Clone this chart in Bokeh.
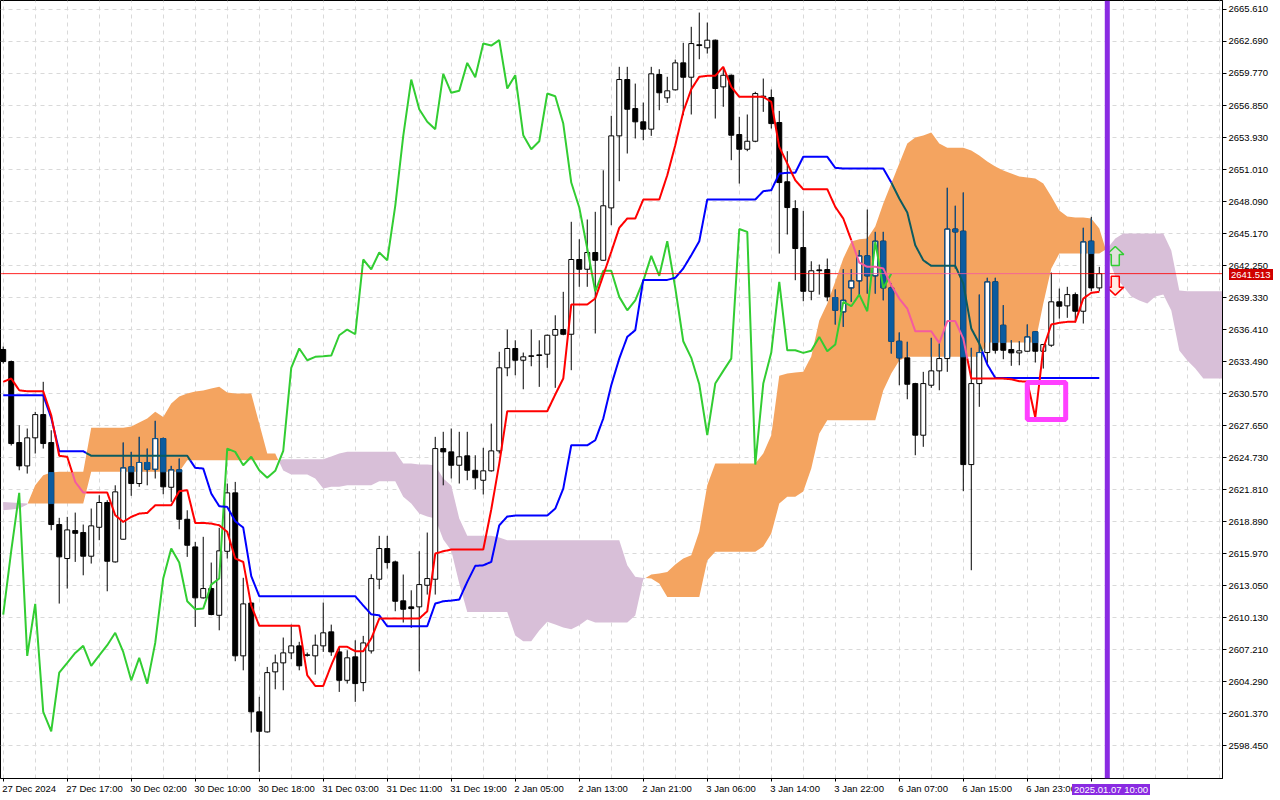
import math
import numpy as np
from bokeh.plotting import figure
from bokeh.layouts import column
from bokeh.models import Range1d, FixedTicker, NumeralTickFormatter, Span, LinearAxis, Div
from bokeh.embed import file_html
from bokeh.resources import INLINE

# ---------------- data (XAUUSD H1) ----------------
opens = [2634.59, 2633.49, 2626.10, 2623.97, 2626.53, 2628.65, 2626.10, 2618.62, 2615.52, 2618.07,
         2617.89, 2615.73, 2618.37, 2620.63, 2615.21, 2617.28, 2623.88, 2622.36, 2624.28, 2623.66,
         2626.46, 2622.02, 2623.61, 2619.10, 2616.58, 2611.93, 2612.78, 2610.34, 2616.18, 2621.51,
         2606.64, 2611.46, 2601.53, 2599.70, 2605.18, 2606.00, 2606.91, 2607.55, 2606.73, 2606.64,
         2607.55, 2608.83, 2607.00, 2604.41, 2606.55, 2604.20, 2607.09, 2613.63, 2616.43, 2615.21,
         2611.66, 2611.11, 2611.11, 2613.08, 2613.63, 2625.55, 2625.25, 2624.03, 2624.89, 2623.57,
         2622.66, 2623.52, 2625.34, 2632.92, 2634.68, 2633.61, 2634.01, 2634.10, 2634.16, 2635.89,
         2636.41, 2635.98, 2642.80, 2641.91, 2643.44, 2642.73, 2647.51, 2654.08, 2659.22, 2656.57,
         2655.36, 2654.69, 2659.68, 2657.55, 2658.28, 2660.74, 2659.43, 2662.39, 2662.11, 2662.81,
         2658.55, 2659.61, 2654.20, 2652.86, 2653.59, 2657.62, 2657.58, 2655.30, 2649.89, 2647.45,
         2643.89, 2639.90, 2641.85, 2641.88, 2639.33, 2638.02, 2640.21, 2640.85, 2643.13, 2641.31,
         2644.47, 2640.21, 2635.34, 2633.83, 2631.48, 2626.77, 2631.33, 2632.64, 2633.76, 2645.58,
         2645.38, 2624.09, 2631.48, 2634.31, 2640.76, 2636.80, 2634.59, 2634.28, 2634.43, 2636.20,
         2634.43, 2634.98, 2638.94, 2638.57, 2639.60, 2638.08, 2644.47, 2640.21]
highs = [2634.86, 2633.58, 2627.68, 2627.38, 2628.90, 2631.64, 2627.22, 2619.23, 2619.32, 2619.71,
         2618.62, 2620.08, 2621.29, 2620.84, 2622.20, 2626.10, 2625.25, 2626.62, 2625.55, 2628.08,
         2626.55, 2623.97, 2624.64, 2619.92, 2617.04, 2617.50, 2615.15, 2618.32, 2622.36, 2622.51,
         2613.76, 2611.50, 2602.90, 2605.63, 2606.76, 2608.31, 2609.49, 2607.92, 2606.94, 2608.58,
         2611.50, 2609.49, 2607.37, 2607.15, 2608.06, 2608.46, 2614.08, 2617.59, 2617.59, 2615.33,
         2614.06, 2612.62, 2616.18, 2617.89, 2626.62, 2627.08, 2627.38, 2627.08, 2627.08, 2624.94,
         2625.62, 2627.83, 2634.38, 2636.41, 2635.43, 2634.31, 2636.41, 2635.43, 2635.95, 2637.71,
         2639.85, 2646.24, 2644.65, 2646.45, 2647.15, 2650.94, 2655.91, 2660.38, 2660.38, 2658.85,
         2657.12, 2660.38, 2660.16, 2659.47, 2661.04, 2662.57, 2664.03, 2665.33, 2664.42, 2662.87,
         2660.38, 2659.68, 2655.82, 2656.03, 2658.10, 2659.31, 2658.31, 2656.36, 2652.68, 2648.21,
         2647.24, 2642.64, 2642.34, 2642.89, 2640.06, 2641.91, 2641.91, 2643.65, 2647.36, 2645.32,
         2645.32, 2640.61, 2636.14, 2635.29, 2631.55, 2632.55, 2635.65, 2635.13, 2649.34, 2647.70,
         2648.91, 2634.74, 2639.60, 2641.13, 2641.13, 2638.63, 2635.43, 2635.34, 2636.87, 2636.25,
         2635.10, 2641.61, 2640.15, 2640.31, 2639.79, 2645.69, 2646.69, 2642.13]
lows = [2633.31, 2625.83, 2623.57, 2623.27, 2625.10, 2625.55, 2618.10, 2611.41, 2612.78, 2615.21,
        2613.99, 2615.06, 2617.19, 2612.53, 2615.15, 2617.25, 2621.24, 2622.06, 2622.20, 2622.82,
        2621.38, 2620.69, 2618.19, 2615.67, 2609.28, 2611.87, 2610.34, 2608.97, 2615.52, 2606.15,
        2605.32, 2599.64, 2596.05, 2599.64, 2603.59, 2603.50, 2606.33, 2605.32, 2606.57, 2604.93,
        2607.00, 2606.64, 2603.35, 2604.11, 2602.44, 2603.41, 2606.85, 2612.72, 2614.60, 2610.71,
        2609.68, 2609.19, 2605.23, 2612.23, 2612.23, 2622.20, 2622.82, 2622.36, 2622.66, 2621.84,
        2621.36, 2623.45, 2625.10, 2632.15, 2632.24, 2630.96, 2633.06, 2631.18, 2632.92, 2631.09,
        2635.89, 2632.70, 2640.31, 2640.31, 2636.05, 2642.70, 2645.93, 2649.94, 2652.47, 2653.84,
        2653.68, 2654.08, 2656.42, 2657.09, 2658.22, 2655.96, 2656.03, 2661.07, 2661.59, 2655.66,
        2656.73, 2651.86, 2649.73, 2652.68, 2653.50, 2656.27, 2654.75, 2643.34, 2645.08, 2640.91,
        2638.99, 2639.08, 2639.60, 2638.99, 2636.87, 2636.66, 2638.94, 2639.54, 2639.69, 2639.69,
        2639.08, 2634.22, 2631.33, 2630.05, 2624.94, 2625.71, 2631.09, 2630.87, 2632.55, 2641.98,
        2621.66, 2614.45, 2629.36, 2633.31, 2634.22, 2633.70, 2633.10, 2633.15, 2634.40, 2633.40,
        2632.85, 2634.83, 2637.41, 2637.48, 2637.05, 2636.96, 2639.90, 2639.90]
closes = [2633.49, 2626.01, 2623.97, 2626.53, 2628.65, 2626.01, 2618.62, 2615.67, 2618.13, 2617.82,
          2615.73, 2618.50, 2620.63, 2615.27, 2621.60, 2623.79, 2622.36, 2624.28, 2623.66, 2626.46,
          2622.06, 2623.61, 2619.10, 2616.73, 2611.93, 2612.78, 2610.41, 2616.22, 2621.51, 2606.64,
          2611.38, 2601.53, 2599.76, 2605.11, 2606.00, 2606.91, 2607.55, 2605.73, 2606.69, 2607.61,
          2608.74, 2607.00, 2604.41, 2606.46, 2604.11, 2607.82, 2613.69, 2616.43, 2615.15, 2611.62,
          2610.89, 2610.95, 2613.14, 2613.69, 2625.55, 2625.25, 2624.03, 2624.80, 2623.57, 2622.88,
          2623.52, 2625.34, 2632.92, 2634.68, 2633.61, 2633.92, 2633.97, 2634.04, 2635.89, 2636.41,
          2635.98, 2642.80, 2641.91, 2643.44, 2642.73, 2647.70, 2654.08, 2659.22, 2656.51, 2655.36,
          2654.69, 2659.74, 2658.01, 2658.19, 2660.74, 2659.43, 2662.50, 2662.32, 2662.81, 2658.40,
          2659.61, 2654.14, 2652.86, 2653.59, 2657.94, 2657.70, 2655.20, 2649.82, 2647.54, 2643.80,
          2639.90, 2641.77, 2641.78, 2639.39, 2638.17, 2639.08, 2640.85, 2643.13, 2641.31, 2644.47,
          2640.21, 2635.34, 2633.83, 2631.42, 2626.77, 2631.48, 2632.64, 2633.76, 2645.58, 2645.32,
          2624.09, 2631.48, 2634.31, 2640.76, 2634.52, 2634.52, 2634.28, 2634.47, 2635.74, 2634.43,
          2635.04, 2638.94, 2638.54, 2639.60, 2638.08, 2644.41, 2640.21, 2641.51]

tenkan = [2631.64, 2631.94, 2630.87, 2630.78, 2630.78, 2630.78, 2628.59, 2624.89, 2624.80, 2622.51,
          2621.54, 2621.54, 2621.54, 2621.54, 2619.47, 2618.86, 2619.32, 2619.62, 2619.68, 2620.38,
          2620.38, 2620.38, 2621.66, 2621.75, 2618.77, 2618.77, 2618.71, 2618.55, 2617.95, 2615.52,
          2615.21, 2611.23, 2609.38, 2609.38, 2609.38, 2609.38, 2609.38, 2609.38, 2604.87, 2603.90,
          2603.90, 2605.78, 2607.46, 2607.46, 2607.06, 2607.06, 2608.22, 2610.04, 2610.04, 2610.04,
          2610.04, 2610.04, 2610.04, 2610.71, 2615.97, 2616.18, 2616.34, 2616.34, 2616.34, 2616.34,
          2616.34, 2619.99, 2624.18, 2628.96, 2628.96, 2628.96, 2628.96, 2628.96, 2628.96, 2630.48,
          2631.94, 2638.69, 2638.69, 2638.69, 2639.24, 2641.36, 2643.50, 2645.69, 2646.54, 2646.54,
          2648.27, 2648.27, 2648.27, 2650.49, 2653.23, 2656.27, 2658.33, 2659.47, 2659.56, 2659.56,
          2660.38, 2658.55, 2657.64, 2657.64, 2657.64, 2657.64, 2657.18, 2653.08, 2651.56, 2650.03,
          2649.21, 2649.21, 2649.21, 2649.21, 2647.60, 2646.54, 2644.56, 2642.52, 2642.13, 2642.13,
          2641.98, 2640.45, 2639.24, 2638.33, 2636.25, 2636.25, 2636.25, 2635.18, 2637.18, 2637.18,
          2635.59, 2631.94, 2631.94, 2631.94, 2631.94, 2631.94, 2631.87, 2631.69, 2631.66, 2628.38,
          2634.68, 2636.87, 2637.02, 2637.11, 2637.11, 2639.24, 2639.76, 2639.85]

kijun = [2630.42, 2630.42, 2630.42, 2630.42, 2630.42, 2630.42, 2628.35, 2625.31, 2625.31, 2625.31,
         2625.31, 2624.89, 2624.89, 2624.89, 2624.89, 2624.89, 2624.89, 2624.89, 2624.89, 2624.89,
         2624.89, 2624.89, 2624.89, 2624.89, 2623.79, 2623.73, 2621.45, 2620.29, 2620.23, 2618.92,
         2618.34, 2613.92, 2612.08, 2612.08, 2612.08, 2612.08, 2612.08, 2612.08, 2612.08, 2612.08,
         2612.08, 2612.08, 2612.08, 2612.08, 2612.08, 2611.23, 2610.43, 2610.34, 2609.34, 2609.34,
         2609.34, 2609.34, 2609.34, 2609.34, 2611.41, 2611.62, 2611.68, 2611.78, 2613.39, 2614.85,
         2614.90, 2615.21, 2618.55, 2619.35, 2619.44, 2619.44, 2619.44, 2619.44, 2619.44, 2620.08,
         2621.90, 2625.85, 2625.85, 2625.85, 2626.31, 2628.29, 2631.33, 2633.76, 2635.74, 2636.35,
         2640.94, 2640.94, 2640.94, 2640.94, 2641.13, 2641.98, 2643.19, 2644.47, 2648.27, 2648.27,
         2648.27, 2648.27, 2648.27, 2648.27, 2648.27, 2649.03, 2649.12, 2650.64, 2650.71, 2650.71,
         2652.17, 2652.17, 2652.17, 2652.17, 2651.16, 2651.10, 2651.10, 2651.10, 2651.10, 2651.10,
         2651.10, 2649.82, 2648.37, 2647.09, 2644.10, 2642.73, 2642.22, 2642.22, 2642.22, 2642.22,
         2640.61, 2636.50, 2635.13, 2633.22, 2632.00, 2632.00, 2632.00, 2632.00, 2632.00, 2632.00,
         2632.00, 2632.00, 2632.00, 2632.00, 2632.00, 2632.00, 2632.00, 2632.00]

# Senkou spans, already displaced 26 bars forward (index = bar on the chart)
span_a = [2619.92, 2619.99, 2620.08, 2620.44, 2622.20, 2623.12, 2623.36, 2623.43, 2623.43, 2623.43,
          2623.43, 2627.44, 2627.44, 2627.44, 2627.44, 2627.44, 2627.56, 2627.92, 2628.29, 2628.90,
          2628.44, 2629.66, 2630.30, 2630.57, 2630.75, 2630.84, 2631.03, 2631.18, 2630.66, 2630.57,
          2630.57, 2630.57, 2627.83, 2625.10, 2625.10, 2623.55, 2623.18, 2623.18, 2623.18, 2622.82,
          2621.90, 2622.06, 2622.06, 2622.20, 2622.20, 2622.20, 2622.20, 2622.57, 2622.57, 2622.57,
          2621.15, 2620.53, 2619.62, 2619.35, 2619.17, 2617.25, 2616.25, 2613.24, 2610.65, 2610.65,
          2610.65, 2610.65, 2610.65, 2610.65, 2608.49, 2607.97, 2607.97, 2608.95, 2609.74, 2609.49,
          2609.22, 2609.07, 2609.43, 2609.95, 2609.68, 2609.68, 2609.68, 2609.68, 2609.68, 2610.32,
          2613.60, 2614.06, 2614.15, 2614.30, 2614.97, 2615.52, 2615.82, 2617.98, 2622.20, 2624.18,
          2624.18, 2624.18, 2624.18, 2624.18, 2624.18, 2625.10, 2626.77, 2632.19, 2632.40, 2632.49,
          2632.55, 2633.95, 2637.23, 2638.78, 2640.79, 2642.89, 2644.44, 2644.65, 2644.71, 2645.81,
          2647.91, 2649.73, 2651.56, 2653.38, 2653.93, 2654.11, 2654.38, 2653.38, 2652.99, 2652.99,
          2652.99, 2652.74, 2652.29, 2651.74, 2651.28, 2650.92, 2650.64, 2650.37, 2650.28, 2650.19,
          2649.73, 2648.54, 2647.27, 2646.72, 2646.63, 2646.63, 2646.54, 2645.63, 2643.25, 2641.25,
          2640.33, 2639.42, 2639.06, 2638.78, 2639.42, 2639.60, 2638.14, 2634.49, 2633.58, 2632.85,
          2631.94, 2631.94, 2631.94, 2631.94]
span_b = [2620.67, 2620.63, 2620.58, 2620.53, 2620.53, 2620.53, 2620.53, 2620.53, 2620.53, 2620.53,
          2620.53, 2623.43, 2623.43, 2623.43, 2623.43, 2623.43, 2623.43, 2623.43, 2623.43, 2623.43,
          2623.43, 2623.43, 2623.43, 2624.48, 2624.48, 2624.48, 2624.48, 2624.48, 2624.48, 2624.48,
          2624.48, 2624.48, 2624.48, 2624.48, 2624.48, 2624.58, 2624.58, 2624.58, 2624.58, 2624.58,
          2624.58, 2624.82, 2625.10, 2625.25, 2625.25, 2625.25, 2625.25, 2625.25, 2625.25, 2625.25,
          2624.18, 2624.18, 2624.09, 2624.09, 2624.03, 2622.82, 2622.18, 2619.17, 2617.59, 2617.59,
          2617.59, 2617.59, 2617.43, 2617.19, 2617.19, 2617.19, 2617.19, 2617.19, 2617.19, 2617.19,
          2617.19, 2617.19, 2617.19, 2617.19, 2617.19, 2617.19, 2617.19, 2617.19, 2614.90, 2613.85,
          2613.75, 2613.69, 2613.24, 2612.02, 2612.02, 2612.02, 2612.02, 2612.02, 2615.33, 2616.13,
          2616.13, 2616.13, 2616.13, 2616.13, 2616.13, 2616.61, 2617.80, 2620.53, 2621.15, 2621.15,
          2621.63, 2623.73, 2626.92, 2628.13, 2628.13, 2628.13, 2628.13, 2628.13, 2628.13, 2628.13,
          2630.84, 2632.40, 2633.58, 2633.92, 2633.92, 2633.92, 2633.92, 2633.92, 2633.92, 2633.92,
          2633.92, 2633.92, 2633.92, 2635.22, 2635.22, 2635.22, 2635.22, 2635.22, 2635.22, 2635.22,
          2638.78, 2641.98, 2643.34, 2643.34, 2643.34, 2643.34, 2643.34, 2643.34, 2643.80, 2644.71,
          2645.17, 2645.17, 2645.17, 2645.17, 2645.17, 2645.17, 2643.62, 2639.97, 2639.90, 2639.90,
          2639.90, 2639.90, 2639.90, 2639.90]

chikou_shift = 26
last_price = 2641.513
price_ticks = [2598.450, 2601.370, 2604.290, 2607.210, 2610.130, 2613.050, 2615.970, 2618.890,
               2621.810, 2624.730, 2627.650, 2630.570, 2633.490, 2636.410, 2639.330, 2642.250,
               2645.170, 2648.090, 2651.010, 2653.930, 2656.850, 2659.770, 2662.690, 2665.610]
time_tick_bars = [0, 8, 16, 24, 32, 40, 48, 56, 64, 72, 80, 88, 96, 104, 112, 120, 128, 136]
time_tick_labels = ["27 Dec 2024", "27 Dec 17:00", "30 Dec 02:00", "30 Dec 10:00", "30 Dec 18:00",
                    "31 Dec 03:00", "31 Dec 11:00", "31 Dec 19:00", "2 Jan 05:00", "2 Jan 13:00",
                    "2 Jan 21:00", "3 Jan 06:00", "3 Jan 14:00", "3 Jan 22:00", "6 Jan 07:00",
                    "6 Jan 15:00", "6 Jan 23:00", "7 Jan 07:00"]
cursor_bar = 138
cursor_label = "2025.01.07 10:00"
box_bars = [128.0, 132.8]
box_prices = [2628.20, 2631.58]
arrow_bar = 139.0
arrow_up_tip = 2643.98
arrow_down_tip = 2639.55

# ---------------- colours / fonts ----------------
ORANGE = "#F4A460"
THISTLE = "#D8BFD8"
RED = "#FF0000"
BLUE = "#0000FF"
GREEN = "#32CD32"
XOR_BLACK = "#0B5B9F"
XOR_RED = "#F45B9F"
XOR_BLUE = "#0B5B60"
FONT = "Liberation Sans"
FSIZE = 9.5

A = np.array(span_a)
B = np.array(span_b)
M = len(A)
n = len(closes)
bars = np.arange(n)

X0, X1 = -0.34, 152.4
Y0, Y1 = 2595.45, 2666.43
FW, FH = 1222, 778
PX_X = (X1 - X0) / FW   # bars per pixel
PX_Y = (Y1 - Y0) / FH   # price per pixel

p = figure(frame_width=FW, frame_height=FH, output_backend="svg", toolbar_location=None,
           x_range=Range1d(X0, X1), y_range=Range1d(Y0, Y1), y_axis_location="right",
           min_border_left=0, min_border_top=0, min_border_right=0, min_border_bottom=0)
p.background_fill_color = "white"
p.border_fill_color = "white"
p.outline_line_color = "black"
p.outline_line_width = 1

# grids
p.ygrid.ticker = FixedTicker(ticks=price_ticks)
p.xgrid.ticker = FixedTicker(ticks=list(range(0, 153, 4)))
p.grid.grid_line_color = "#d9d9d9"
p.grid.grid_line_dash = "4 4"
p.grid.grid_line_width = 1

# right price axis
p.yaxis.ticker = FixedTicker(ticks=price_ticks)
p.yaxis.formatter = NumeralTickFormatter(format="0.000")
p.yaxis.axis_line_color = "black"
p.yaxis.major_tick_line_color = "black"
p.yaxis.minor_tick_line_color = None
p.yaxis.major_tick_in = 0
p.yaxis.major_tick_out = 4
p.yaxis.major_label_standoff = 2
p.yaxis.major_label_text_font = FONT
p.yaxis.major_label_text_font_size = f"{FSIZE}px"
p.yaxis.major_label_text_color = "black"

# time axis: tick marks on the first axis, left-aligned labels on a second one
xa = p.xaxis[0]
xa.ticker = FixedTicker(ticks=time_tick_bars)
xa.axis_line_color = "black"
xa.major_tick_line_color = "black"
xa.minor_tick_line_color = None
xa.major_tick_in = 0
xa.major_tick_out = 3
xa.major_label_standoff = 0
xa.major_label_text_font_size = "0px"
xa.major_label_text_alpha = 0

EM = {"0": .556, "1": .556, "2": .556, "3": .556, "4": .556, "5": .556, "6": .556, "7": .556,
      "8": .556, "9": .556, " ": .278, ":": .278, ".": .278, "D": .722, "J": .5, "a": .556,
      "c": .5, "e": .556, "n": .556}


def text_w(s):
    return sum(EM.get(ch, .556) for ch in s) * FSIZE


label_pos = [round(b + (text_w(s) / 2 - 1) * PX_X, 4) for b, s in zip(time_tick_bars, time_tick_labels)]
xl = LinearAxis(ticker=FixedTicker(ticks=label_pos),
                major_label_overrides={v: s for v, s in zip(label_pos, time_tick_labels)})
xl.axis_line_color = None
xl.major_tick_line_color = None
xl.minor_tick_line_color = None
xl.major_tick_in = 0
xl.major_tick_out = 0
xl.major_label_standoff = 1
xl.major_label_text_font = FONT
xl.major_label_text_font_size = f"{FSIZE}px"
xl.major_label_text_color = "black"
p.add_layout(xl, "below")

# ---------------- cloud ----------------
cx, ca, cb = [], [], []
for k in range(M - 1):
    cx.append(float(k)); ca.append(A[k]); cb.append(B[k])
    d0 = A[k] - B[k]
    d1 = A[k + 1] - B[k + 1]
    if d0 * d1 < 0:
        t = d0 / (d0 - d1)
        yv = A[k] + (A[k + 1] - A[k]) * t
        cx.append(k + t); ca.append(yv); cb.append(yv)
cx.append(float(M - 1)); ca.append(A[-1]); cb.append(B[-1])
ca = np.array(ca); cb = np.array(cb)
top = np.maximum(ca, cb)
p.varea(x=cx, y1=cb, y2=top, fill_color=ORANGE, fill_alpha=1.0)
p.varea(x=cx, y1=ca, y2=top, fill_color=THISTLE, fill_alpha=1.0)


def cloud_at(xf):
    xf = min(max(xf, 0.0), M - 1.0)
    k = min(int(math.floor(xf)), M - 2)
    t = xf - k
    a = A[k] + (A[k + 1] - A[k]) * t
    b = B[k] + (B[k + 1] - B[k]) * t
    return a, b


def orange_range(xf):
    a, b = cloud_at(xf)
    if a > b:
        return b, a
    return None


def in_orange(xf, y):
    r = orange_range(xf)
    return r is not None and r[0] <= y <= r[1]


# ---------------- candles ----------------
o = np.array(opens); h = np.array(highs); l = np.array(lows); c = np.array(closes)
p.segment(x0=bars, y0=l, x1=bars, y1=h, line_color="black", line_width=1)

wx, wlo, whi = [], [], []
for i in range(n):
    r = orange_range(float(i))
    if r:
        lo, hi = max(l[i], r[0]), min(h[i], r[1])
        if hi > lo:
            wx.append(i); wlo.append(lo); whi.append(hi)
p.segment(x0=wx, y0=wlo, x1=wx, y1=whi, line_color=XOR_BLACK, line_width=1)

BW = 0.62
bull = c >= o
btop = np.maximum(o, c)
bbot = np.minimum(o, c)
p.vbar(x=bars[bull], width=BW, top=btop[bull], bottom=bbot[bull],
       fill_color="white", line_color="black", line_width=1)
p.vbar(x=bars[~bull], width=BW, top=btop[~bull], bottom=bbot[~bull],
       fill_color="black", line_color="black", line_width=1)

bx, blo, bhi = [], [], []
ex0, ey0, ex1, ey1 = [], [], [], []
for i in range(n):
    r = orange_range(float(i))
    if not r:
        continue
    lo, hi = max(bbot[i], r[0]), min(btop[i], r[1])
    if hi <= lo:
        continue
    if not bull[i]:
        bx.append(i); blo.append(lo); bhi.append(hi)
    else:
        for sx in (i - BW / 2, i + BW / 2):
            ex0.append(sx); ey0.append(lo); ex1.append(sx); ey1.append(hi)
        if r[0] <= btop[i] <= r[1]:
            ex0.append(i - BW / 2); ey0.append(btop[i]); ex1.append(i + BW / 2); ey1.append(btop[i])
        if r[0] <= bbot[i] <= r[1]:
            ex0.append(i - BW / 2); ey0.append(bbot[i]); ex1.append(i + BW / 2); ey1.append(bbot[i])
p.vbar(x=bx, width=BW, top=bhi, bottom=blo, fill_color=XOR_BLACK, line_color=XOR_BLACK, line_width=1)
p.segment(x0=ex0, y0=ey0, x1=ex1, y1=ey1, line_color=XOR_BLACK, line_width=1)


# ---------------- indicator lines ----------------
def colored_runs(xv, yv, base, alt, steps=8):
    xs, ys, cols = [], [], []
    cur = None
    for k in range(len(xv) - 1):
        for s in range(steps):
            t0, t1 = s / steps, (s + 1) / steps
            xa_ = xv[k] + (xv[k + 1] - xv[k]) * t0
            xb_ = xv[k] + (xv[k + 1] - xv[k]) * t1
            ya_ = yv[k] + (yv[k + 1] - yv[k]) * t0
            yb_ = yv[k] + (yv[k + 1] - yv[k]) * t1
            col = alt if in_orange((xa_ + xb_) / 2, (ya_ + yb_) / 2) else base
            if col != cur:
                xs.append([xa_]); ys.append([ya_]); cols.append(col)
                cur = col
            xs[-1].append(xb_); ys[-1].append(yb_)
    return xs, ys, cols


ch_x = [i - chikou_shift for i in range(chikou_shift, n)]
ch_y = closes[chikou_shift:]
p.line(ch_x, ch_y, line_color=GREEN, line_width=2)

xs, ys, cols = colored_runs(list(bars), kijun, BLUE, XOR_BLUE)
p.multi_line(xs, ys, line_color=cols, line_width=2)
xs, ys, cols = colored_runs(list(bars), tenkan, RED, XOR_RED)
p.multi_line(xs, ys, line_color=cols, line_width=2)

# current price line
px = [X0] + list(range(0, M))
py = [last_price] * len(px)
xs, ys, cols = colored_runs(px, py, RED, XOR_RED, steps=8)
p.multi_line(xs, ys, line_color=cols, line_width=1)

# magenta box
p.quad(left=[box_bars[0]], right=[box_bars[1]], bottom=[box_prices[0]], top=[box_prices[1]],
       fill_alpha=0, line_color="#FF40FF", line_width=5)

# arrows (outlined)
hw, sw = 8.5 * PX_X, 4.0 * PX_X
up_x = [arrow_bar, arrow_bar + hw, arrow_bar + sw, arrow_bar + sw, arrow_bar - sw, arrow_bar - sw, arrow_bar - hw]
up_y = [arrow_up_tip, arrow_up_tip - 8 * PX_Y, arrow_up_tip - 8 * PX_Y, arrow_up_tip - 19 * PX_Y,
        arrow_up_tip - 19 * PX_Y, arrow_up_tip - 8 * PX_Y, arrow_up_tip - 8 * PX_Y]
dn_y = [arrow_down_tip, arrow_down_tip + 8 * PX_Y, arrow_down_tip + 8 * PX_Y, arrow_down_tip + 19 * PX_Y,
        arrow_down_tip + 19 * PX_Y, arrow_down_tip + 8 * PX_Y, arrow_down_tip + 8 * PX_Y]
p.patch(up_x, up_y, fill_color="#e6f7e0", fill_alpha=0.6, line_color=GREEN, line_width=1.5)
p.patch(up_x, dn_y, fill_color="#ffe0d0", fill_alpha=0.6, line_color=RED, line_width=1.5)

# cursor line
p.add_layout(Span(location=cursor_bar, dimension="height", line_color="#8A2BE2", line_width=5))

# boxes on the axes (html overlays)
cur_px = (cursor_bar - X0) / PX_X
price_py = (Y1 - last_price) / PX_Y
time_div = Div(text=f'<div style="display:block;background:#8A2BE2;color:white;'
                    f'font-family:{FONT};font-size:9.5px;line-height:11px;height:11px;padding:0 2px;'
                    f'white-space:nowrap">{cursor_label}</div>',
               styles={"position": "absolute", "left": f"{cur_px - 40:.0f}px", "top": "776px", "z-index": "10"})
price_div = Div(text=f'<div style="display:block;background:#D00000;color:white;'
                     f'font-family:{FONT};font-size:9.5px;line-height:11px;height:11px;padding:0 2px;'
                     f'white-space:nowrap">{last_price:.3f}</div>',
                styles={"position": "absolute", "left": f"{FW + 2}px", "top": f"{price_py - 12:.0f}px", "z-index": "10"})

layout = column(p, time_div, price_div, styles={"position": "relative"}, spacing=0)
open("out.html", "w").write(file_html(layout, INLINE))
